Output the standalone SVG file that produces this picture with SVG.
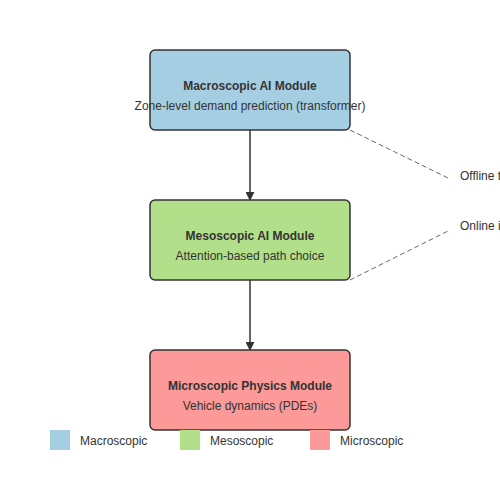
<svg xmlns="http://www.w3.org/2000/svg" width="500" height="500" viewBox="0 0 500 500">
<defs>
<style>
.node rect{stroke:#333;stroke-width:1.5}
.t{font-family:"Liberation Sans",Arial,sans-serif;font-size:12px;fill:#333;text-anchor:middle}
.b{font-weight:bold}
.lg{font-family:"Liberation Sans",Arial,sans-serif;font-size:12px;fill:#333}
.edge{stroke:#333;stroke-width:1.5;fill:none}
.dash{stroke:#666;stroke-width:1;stroke-dasharray:5,3;fill:none}
</style>
<marker id="arr" viewBox="0 0 10 10" refX="9" refY="5" markerWidth="6" markerHeight="6" orient="auto">
<path d="M0,0 L10,5 L0,10 z" fill="#333"/>
</marker>
</defs>
<rect width="500" height="500" fill="#fff"/>
<g id="connectors">
<line class="edge" x1="250" y1="130" x2="250" y2="200" marker-end="url(#arr)"/>
<line class="edge" x1="250" y1="280" x2="250" y2="350" marker-end="url(#arr)"/>
<line class="dash" x1="350" y1="130" x2="448" y2="178"/>
<line class="dash" x1="350" y1="280" x2="448" y2="231"/>
</g>
<g id="macro" class="node">
<rect x="150" y="50" width="200" height="80" rx="5" fill="#a6cee3"/>
<text class="t b" x="250" y="90">Macroscopic AI Module</text>
<text class="t" x="250" y="110">Zone-level demand prediction (transformer)</text>
</g>
<g id="meso" class="node">
<rect x="150" y="200" width="200" height="80" rx="5" fill="#b2df8a"/>
<text class="t b" x="250" y="240">Mesoscopic AI Module</text>
<text class="t" x="250" y="260">Attention-based path choice</text>
</g>
<g id="micro" class="node">
<rect x="150" y="350" width="200" height="80" rx="5" fill="#fb9a99"/>
<text class="t b" x="250" y="390">Microscopic Physics Module</text>
<text class="t" x="250" y="410">Vehicle dynamics (PDEs)</text>
</g>
<g id="notes">
<text class="lg" x="460" y="180">Offline training</text>
<text class="lg" x="460" y="230">Online inference</text>
</g>
<g id="legend">
<rect x="50" y="430" width="20" height="20" fill="#a6cee3"/>
<text class="lg" x="80" y="445">Macroscopic</text>
<rect x="180" y="430" width="20" height="20" fill="#b2df8a"/>
<text class="lg" x="210" y="445">Mesoscopic</text>
<rect x="310" y="430" width="20" height="20" fill="#fb9a99"/>
<text class="lg" x="340" y="445">Microscopic</text>
</g>
</svg>
